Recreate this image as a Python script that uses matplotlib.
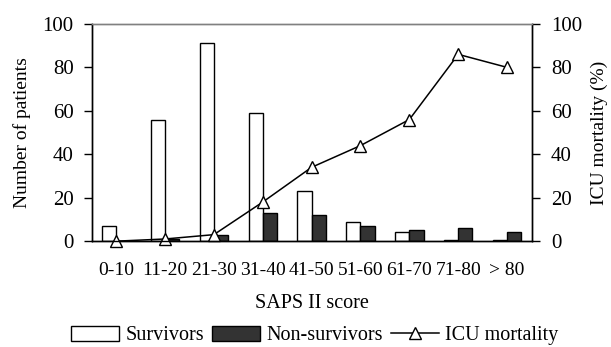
import numpy as np
import matplotlib.pyplot as plt

plt.rcParams["font.family"] = ["Liberation Serif", "DejaVu Serif"]

categories = ["0-10", "11-20", "21-30", "31-40", "41-50", "51-60", "61-70", "71-80", "> 80"]
survivors = [7, 56, 91, 59, 23, 9, 4, 0.5, 0.5]
non_survivors = [0, 1, 3, 13, 12, 7, 5, 6, 4]
mortality = [0, 1, 3, 18, 34, 44, 56, 86, 80]

FS = 14
x = np.arange(len(categories))
w = 0.29

fig = plt.figure(figsize=(6.11, 3.47), dpi=100)
ax = fig.add_axes([0.150, 0.305, 0.720, 0.626])
ax2 = ax.twinx()

b1 = ax.bar(x - w / 2, survivors, w, color="white", edgecolor="black", lw=1.0,
            label="Survivors", zorder=2)
b2 = ax.bar(x + w / 2, non_survivors, w, color="#333333", edgecolor="black", lw=1.0,
            label="Non-survivors", zorder=2)
ln, = ax2.plot(x, mortality, color="black", lw=1.1, marker="^", ms=9,
               mfc="white", mec="black", mew=1.0, label="ICU mortality", clip_on=False)

ax.set_xlim(-0.5, len(categories) - 0.5)
ax.set_ylim(0, 100)
ax2.set_ylim(0, 100)
ax.set_yticks(range(0, 101, 20))
ax2.set_yticks(range(0, 101, 20))
ax.set_xticks(x)
ax.set_xticklabels(categories, fontsize=FS)
ax.tick_params(axis="x", length=0, pad=15)
ax.tick_params(axis="y", direction="out", length=6, width=1, pad=7, labelsize=FS + 1)
ax2.tick_params(axis="y", direction="out", length=6, width=1, pad=8, labelsize=FS + 1)

for a in (ax, ax2):
    a.spines["top"].set_color("#808080")
    a.spines["top"].set_linewidth(1.0)
    a.spines["left"].set_linewidth(1.0)
    a.spines["right"].set_linewidth(1.0)
    a.spines["bottom"].set_linewidth(1.0)

ax.set_ylabel("Number of patients", fontsize=FS, labelpad=8)
ax2.set_ylabel("ICU mortality (%)", fontsize=FS, labelpad=6)
ax.set_xlabel("SAPS II score", fontsize=FS + 0.5, labelpad=11)

fig.legend([b1, b2, ln], ["Survivors", "Non-survivors", "ICU mortality"],
           loc="center", bbox_to_anchor=(0.515, 0.033), ncol=3, frameon=False,
           fontsize=FS + 0.5, handlelength=2.4, handleheight=0.8, handletextpad=0.3,
           columnspacing=0.4, borderpad=0.1)

fig.savefig("out.png", dpi=100)
